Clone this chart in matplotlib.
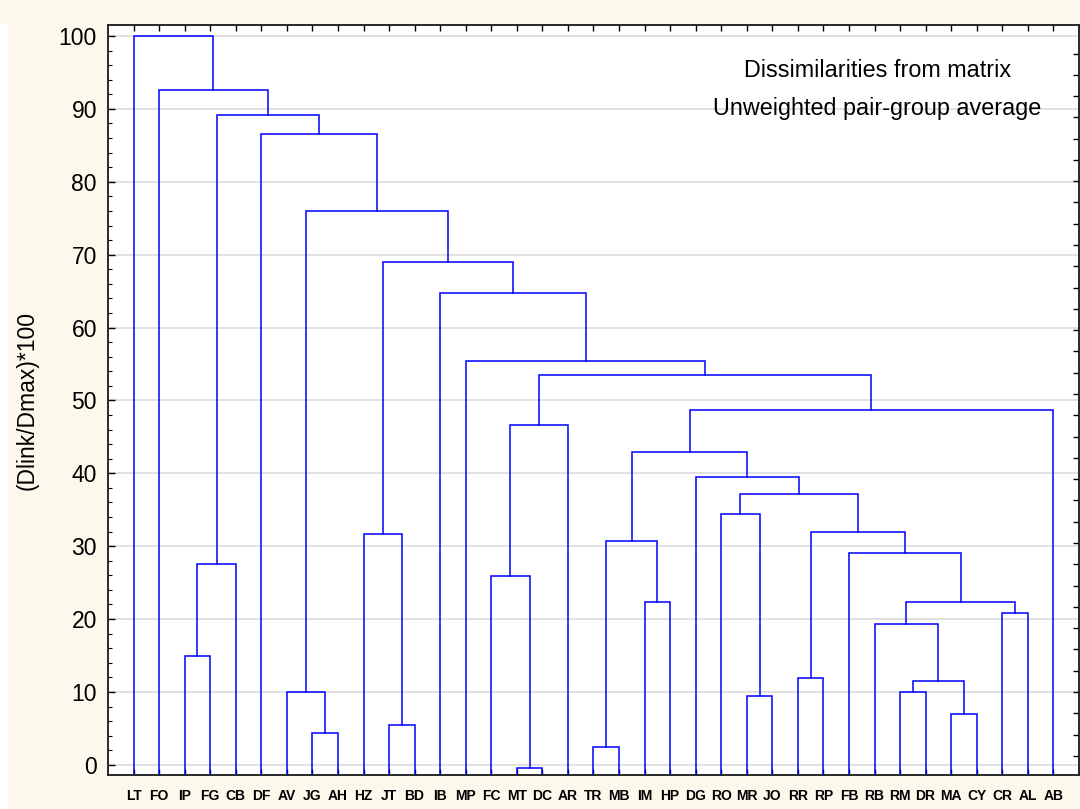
import matplotlib.pyplot as plt
from matplotlib.patches import Rectangle
import numpy as np

# leaf order as it appears on the x axis
leaves = ["LT", "FO", "IP", "FG", "CB", "DF", "AV", "JG", "AH", "HZ", "JT", "BD",
          "IB", "MP", "FC", "MT", "DC", "AR", "TR", "MB", "IM", "HP", "DG", "RO",
          "MR", "JO", "RR", "RP", "FB", "RB", "RM", "DR", "MA", "CY", "CR", "AL", "AB"]

# merges: a child is a leaf name or the index of an earlier merge
merge_left = ["IP", 0, "JG", "AV", "JT", "HZ", "MT", "FC", 7, "TR", "IM", 9,
              "MR", "RO", "RR", "RM", "MA", 15, "RB", "CR", 18, "FB", 14, 13,
              "DG", 11, 25, 8, "MP", "IB", 5, 3, "DF", 1, "FO", "LT"]
merge_right = ["FG", "CB", "AH", 2, "BD", 4, "DC", 6, "AR", "MB", "HP", 10,
               "JO", 12, "RP", "DR", "CY", 16, 17, "AL", 19, 20, 21, 22,
               23, 24, "AB", 26, 27, 28, 29, 30, 31, 32, 33, 34]
merge_height = [14.9, 27.5, 4.4, 10.0, 5.5, 31.7, -0.5, 25.9, 46.6, 2.4, 22.3, 30.7,
                9.5, 34.4, 11.9, 10.0, 7.0, 11.5, 19.3, 20.8, 22.4, 29.1, 32.0, 37.2,
                39.5, 42.9, 48.7, 53.5, 55.4, 64.7, 69.0, 76.0, 86.5, 89.2, 92.6, 100.0]

Y_MIN, Y_MAX = -1.4, 101.5
LINE = "#0000ff"

fig = plt.figure(figsize=(10.8, 8.09), dpi=100, facecolor="#fdf8ec")
fig.patches.append(Rectangle((0, 0), 0.007, 0.97, transform=fig.transFigure,
                             facecolor="white", edgecolor="none", zorder=0))
ax = fig.add_axes([0.1, 0.042, 0.899, 0.927])
ax.set_facecolor("white")

leaf_x = {name: i + 1 for i, name in enumerate(leaves)}
node_x = []


def child_pos(c):
    if isinstance(c, str):
        return leaf_x[c], Y_MIN
    return node_x[c], merge_height[c]


for a, b, h in zip(merge_left, merge_right, merge_height):
    xa, ya = child_pos(a)
    xb, yb = child_pos(b)
    ax.plot([xa, xa, xb, xb], [ya, h, h, yb], color=LINE, lw=1.1,
            solid_joinstyle="miter", zorder=3)
    node_x.append((xa + xb) / 2)

ax.set_xlim(0, len(leaves) + 1)
ax.set_ylim(Y_MIN, Y_MAX)

ax.set_yticks(np.arange(0, 101, 10))
ax.set_yticks(np.arange(0, 101, 2), minor=True)
ax.grid(axis="y", which="major", color="#dcdcdc", lw=1.2, zorder=1)
ax.set_xticks(range(1, len(leaves) + 1))
ax.set_xticklabels(leaves, fontsize=10, fontweight="bold",
                   family=["Liberation Sans Narrow", "Liberation Sans"])

ax.tick_params(axis="y", which="major", direction="in", length=5, width=1,
               labelsize=16.5, pad=8)
ax.tick_params(axis="y", which="minor", direction="in", length=3, width=0.8)
ax.tick_params(axis="x", direction="in", length=4, width=1, top=True, pad=10)
for lab in ax.get_yticklabels():
    lab.set_family("Liberation Sans")

ax2 = ax.twinx()
ax2.set_ylim(Y_MIN, Y_MAX)
ax2.set_yticks(np.arange(97.6, 0, -2.92))
ax2.tick_params(axis="y", direction="in", length=4, width=1, labelright=False)

for sp in list(ax.spines.values()) + list(ax2.spines.values()):
    sp.set_linewidth(1.1)
    sp.set_color("#222222")

ax.set_ylabel("(Dlink/Dmax)*100", fontsize=16.5, family="Liberation Sans")
ax.yaxis.set_label_coords(-0.071, 0.5)

ax.text(30.1, 94.4, "Dissimilarities from matrix", ha="center", va="baseline",
        fontsize=16.8, family="Liberation Sans", zorder=4)
ax.text(30.1, 89.2, "Unweighted pair-group average", ha="center", va="baseline",
        fontsize=16.8, family="Liberation Sans", zorder=4)

fig.savefig("out.png", dpi=100, facecolor=fig.get_facecolor())
